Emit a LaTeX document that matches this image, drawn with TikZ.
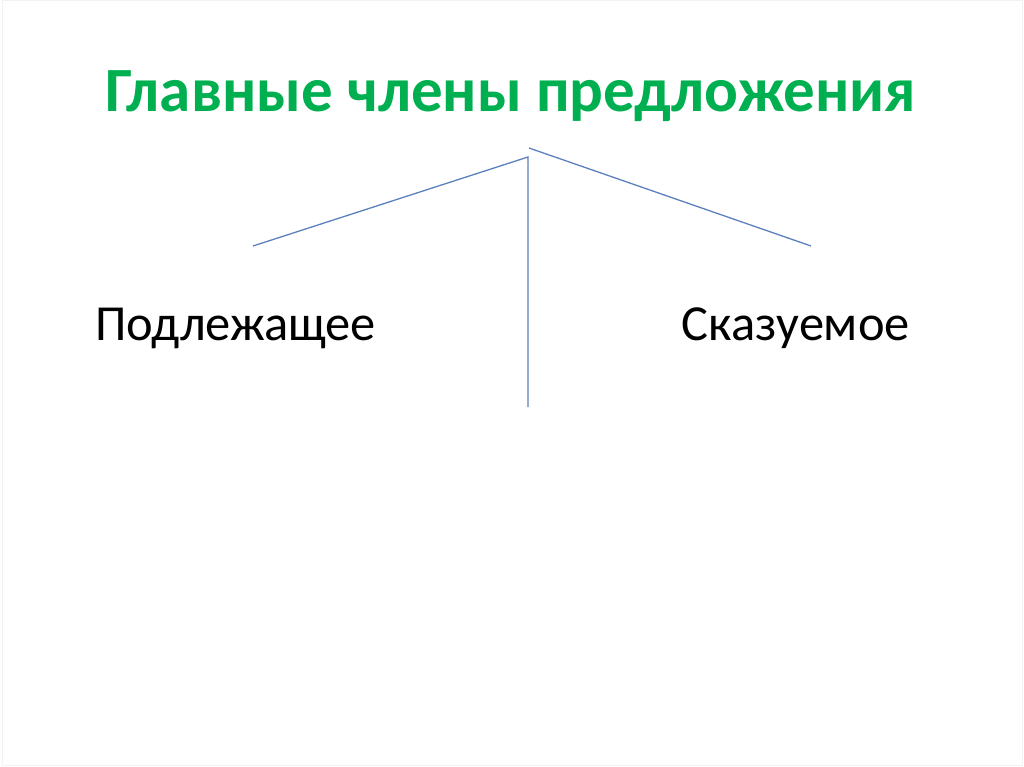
\documentclass[tikz,border=0pt]{standalone}
\usepackage{fontspec}
\setmainfont{Carlito}
\definecolor{titlegreen}{HTML}{00B050}
\definecolor{branchblue}{HTML}{5B80BD}

\begin{document}
\begin{tikzpicture}[x=1pt,y=-1pt,
    branch/.style={draw=branchblue,line width=1.3pt},
    member/.style={font=\fontsize{50.5}{55}\selectfont,inner sep=0pt,anchor=base}]
    \useasboundingbox (0,0) rectangle (1024,767);
    \draw[gray!10,line width=1pt] (2,1) rectangle (1022,765);
    \node[inner sep=0pt,anchor=base,text=titlegreen,font=\fontsize{63}{68}\selectfont\bfseries] (title) at (511,112) {Главные члены предложения};
    \node[member,anchor=base west] (subj) at (95,340) {Подлежащее};
    \node[member,anchor=base east] (pred) at (910,340) {Сказуемое};
    \coordinate (top) at (528,157);
    \coordinate (topr) at (529,148);
    \coordinate (leftend) at (253,246);
    \coordinate (rightend) at (811,246);
    \coordinate (bottom) at (528,407);
    \draw[branch] (leftend) -- (top) -- (bottom);
    \draw[branch] (topr) -- (rightend);
\end{tikzpicture}
\end{document}
